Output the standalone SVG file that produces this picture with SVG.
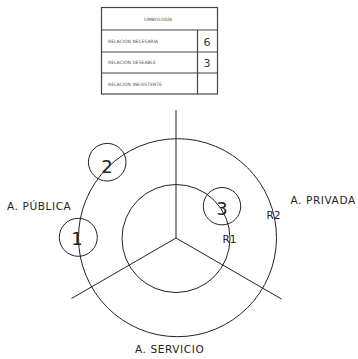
<svg xmlns="http://www.w3.org/2000/svg" width="358" height="359" viewBox="0 0 358 359">
<style>
.ln{stroke:#222;stroke-width:1;fill:none}
.tb{stroke:#444;stroke-width:1.2;fill:none}
.lbl{font-family:"DejaVu Sans",Verdana,sans-serif;font-size:10.5px;letter-spacing:0.6px;fill:#222}
.rl{font-family:"DejaVu Sans",Verdana,sans-serif;font-size:10.5px;fill:#222}
.num{font-family:"DejaVu Sans",Verdana,sans-serif;font-size:18px;fill:#222;text-anchor:middle}
.tiny{font-family:"DejaVu Sans",sans-serif;font-size:4.5px;fill:#555}
.tn{font-family:"DejaVu Sans",sans-serif;font-size:11px;fill:#333;text-anchor:middle}
</style>
<rect width="358" height="359" fill="#fff"/>
<g id="table">
<rect class="tb" x="101.5" y="7.5" width="116" height="86.5"/>
<line class="tb" x1="101.5" y1="30" x2="217.5" y2="30"/>
<line class="tb" x1="101.5" y1="52" x2="217.5" y2="52"/>
<line class="tb" x1="101.5" y1="73" x2="217.5" y2="73"/>
<line class="tb" x1="197.5" y1="30" x2="197.5" y2="94"/>
<text class="tiny" x="158" y="21" text-anchor="middle">SIMBOLOGÍA</text>
<text class="tiny" x="108" y="43">RELACIÓN NECESARIA</text>
<text class="tiny" x="108" y="64">RELACIÓN DESEABLE</text>
<text class="tiny" x="108" y="86">RELACIÓN INEXISTENTE</text>
<text class="tn" x="207" y="46">6</text>
<text class="tn" x="207" y="67">3</text>
</g>
<g id="connectors">
<line class="ln" x1="176" y1="110" x2="176" y2="238"/>
<line class="ln" x1="176" y1="238" x2="71.5" y2="298.5"/>
<line class="ln" x1="176" y1="238" x2="281.5" y2="299"/>
</g>
<g id="R2"><circle class="ln" cx="177.5" cy="237.7" r="99"/><text class="rl" x="266.5" y="219">R2</text></g>
<g id="R1"><circle class="ln" cx="176" cy="238.5" r="54"/><text class="rl" x="222.5" y="243">R1</text></g>
<g id="n1"><circle class="ln" cx="78.3" cy="237.3" r="19"/><text class="num" x="77" y="245">1</text></g>
<g id="n2"><circle class="ln" cx="107.2" cy="162.2" r="18.8"/><text class="num" x="107" y="173">2</text></g>
<g id="n3"><circle class="ln" cx="222" cy="206.2" r="18.7"/><text class="num" x="222" y="215">3</text></g>
<g id="labels">
<text class="lbl" x="7" y="210">A. PÚBLICA</text>
<text class="lbl" x="290.5" y="204">A. PRIVADA</text>
<text class="lbl" x="135" y="353">A. SERVICIO</text>
</g>
</svg>
